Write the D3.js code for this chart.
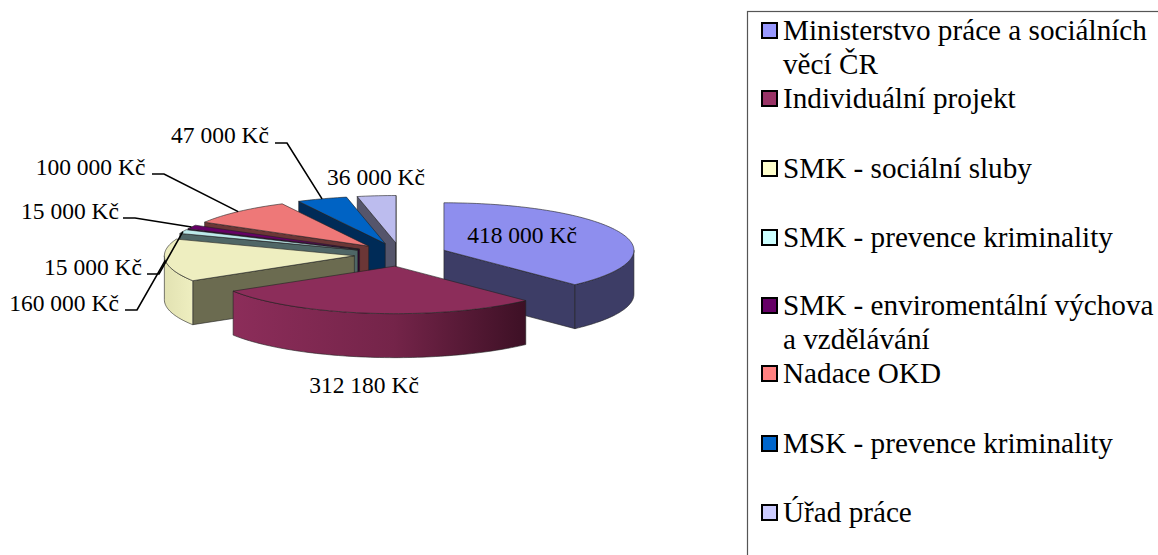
<!DOCTYPE html>
<html>
<head>
<meta charset="utf-8">
<script src="https://cdn.jsdelivr.net/npm/d3@7"></script>
<style>
  html, body { margin: 0; padding: 0; background: #fff; overflow: hidden; }
  text { font-family: "Liberation Serif", serif; fill: #000; }
</style>
</head>
<body>
<div id="chart"></div>
<script>
// Data
const categories = ["Ministerstvo práce a sociálních věcí ČR", "Individuální projekt", "SMK - sociální sluby",
    "SMK - prevence kriminality", "SMK - enviromentální výchova a vzdělávání", "Nadace OKD",
    "MSK - prevence kriminality", "Úřad práce"];
const values = [418000, 312180, 160000, 15000, 15000, 100000, 47000, 36000];
const valueLabels = ["418 000 Kč", "312 180 Kč", "160 000 Kč", "15 000 Kč", "15 000 Kč", "100 000 Kč", "47 000 Kč", "36 000 Kč"];
const topColors = ["#8e8eee", "#8c2d5a", "#eeeec0", "#bce9e9", "#660066", "#ee7878", "#0063c4", "#bcbcee"];
const wallColors = ["#3d3d66", "#6b2145", "#e6e6b4", "#4f6666", "#2b002b", "#6b3636", "#002b57", "#55556b"];
const legendColors = ["#9999ff", "#993366", "#ffffcc", "#ccffff", "#660066", "#ff8080", "#0066cc", "#ccccff"];

const width = 1158, height = 555;
const cx = 400.7, cy = 254.6, rx = 190, ry = 47.5, depth = 44, explode = 0.245;

const svg = d3.select("#chart").append("svg")
    .attr("width", width)
    .attr("height", height);

const defs = svg.append("defs");
const maroonGrad = defs.append("linearGradient").attr("id", "wall1");
maroonGrad.append("stop").attr("offset", "0%").attr("stop-color", "#8c2d5a");
maroonGrad.append("stop").attr("offset", "55%").attr("stop-color", "#742449");
maroonGrad.append("stop").attr("offset", "100%").attr("stop-color", "#3d1025");
const yellowGrad = defs.append("linearGradient").attr("id", "wall2");
yellowGrad.append("stop").attr("offset", "0%").attr("stop-color", "#e2e2b2");
yellowGrad.append("stop").attr("offset", "100%").attr("stop-color", "#eeeec0");

// Angles come from the pie layout, clockwise from 12 o'clock
const slices = d3.pie().sort(null)(values);

// Project a pie angle on the tilted ellipse
const px = (a, r) => r * rx * Math.sin(a);
const py = (a, r) => -r * ry * Math.cos(a);
const line = d3.line().x(d => d[0]).y(d => d[1]);

function arcPoints(a0, a1) {
    const n = Math.max(2, Math.ceil((a1 - a0) * 40));
    return d3.range(n + 1).map(i => a0 + (a1 - a0) * i / n);
}

slices.forEach(s => {
    const mid = (s.startAngle + s.endAngle) / 2;
    s.ox = cx + px(mid, explode);
    s.oy = cy + py(mid, explode);
    s.mid = mid;
});

// Back to front
const drawOrder = [7, 6, 5, 4, 3, 2, 0, 1];
const stroke = "#222";

drawOrder.forEach(i => {
    const s = slices[i];
    const g = svg.append("g").attr("transform", `translate(${s.ox},${s.oy})`);
    const wallFill = i === 1 ? "url(#wall1)" : i === 2 ? "url(#wall2)" : wallColors[i];
    const sideFill = i === 2 ? "#6b6b50" : i === 1 ? "#3d1025" : wallColors[i];

    // radial walls that face the viewer
    const radial = a => [[0, 0], [px(a, 1), py(a, 1)], [px(a, 1), py(a, 1) + depth], [0, depth]];
    if (Math.sin(s.startAngle) < 0) {
        g.append("path").attr("d", line(radial(s.startAngle)) + "Z")
            .attr("fill", sideFill).attr("stroke", stroke).attr("stroke-width", 0.6);
    }
    if (Math.sin(s.endAngle) > 0) {
        g.append("path").attr("d", line(radial(s.endAngle)) + "Z")
            .attr("fill", sideFill).attr("stroke", stroke).attr("stroke-width", 0.6);
    }

    // outer wall, front half of the ellipse only
    const a0 = Math.max(s.startAngle, Math.PI / 2), a1 = Math.min(s.endAngle, 3 * Math.PI / 2);
    if (a1 > a0) {
        const angles = arcPoints(a0, a1);
        const upper = angles.map(a => [px(a, 1), py(a, 1)]);
        const lower = angles.slice().reverse().map(a => [px(a, 1), py(a, 1) + depth]);
        g.append("path").attr("d", line(upper.concat(lower)) + "Z")
            .attr("fill", wallFill).attr("stroke", stroke).attr("stroke-width", 0.6);
    }

    // top face
    const topPts = [[0, 0]].concat(arcPoints(s.startAngle, s.endAngle).map(a => [px(a, 1), py(a, 1)]));
    g.append("path").attr("d", line(topPts) + "Z")
        .attr("fill", topColors[i]).attr("stroke", stroke).attr("stroke-width", 0.6);
});

// Value labels; the leader runs from the elbow to the slice rim
const labelPlace = [
    { x: 522, y: 243 }, { x: 364, y: 393 }, { x: 64, y: 311 }, { x: 93, y: 275 },
    { x: 70, y: 219 }, { x: 90.5, y: 175 }, { x: 220, y: 143 }, { x: 376, y: 185 }
];
const leaderFrom = [null, null, [125, 310], [147, 274], [123, 218], [152, 174], [275, 143], null];

valueLabels.forEach((t, i) => {
    svg.append("text")
        .attr("x", labelPlace[i].x)
        .attr("y", labelPlace[i].y)
        .attr("text-anchor", "middle")
        .attr("font-size", 23.5)
        .text(t);
    if (leaderFrom[i]) {
        const s = slices[i];
        const ex = s.ox + px(s.mid, 1), ey = s.oy + py(s.mid, 1);
        const start = leaderFrom[i];
        svg.append("path")
            .attr("d", line([[start[0], start[1]], [start[0] + 12, start[1]], [ex, ey]]))
            .attr("fill", "none").attr("stroke", "#000").attr("stroke-width", 1.6);
    }
});

// Legend
svg.append("rect").attr("x", 747.5).attr("y", 11.5).attr("width", 420).attr("height", 560)
    .attr("fill", "none").attr("stroke", "#555").attr("stroke-width", 1.2);

const legendLines = [[categories[0].slice(0, 31), categories[0].slice(32)], [categories[1]], [categories[2]], [categories[3]],
    [categories[4].slice(0, 28), categories[4].slice(29)], [categories[5]], [categories[6]], [categories[7]]];
const legendBase = [40, 108, 178, 247, 315, 383, 453, 522];

legendLines.forEach((lines, i) => {
    svg.append("rect").attr("x", 762).attr("y", legendBase[i] - 17).attr("width", 15).attr("height", 15)
        .attr("fill", legendColors[i]).attr("stroke", "#000").attr("stroke-width", 2);
    lines.forEach((t, j) => {
        svg.append("text")
            .attr("x", 783)
            .attr("y", legendBase[i] + j * 34)
            .attr("font-size", 29.2)
            .text(t);
    });
});
</script>
</body>
</html>
